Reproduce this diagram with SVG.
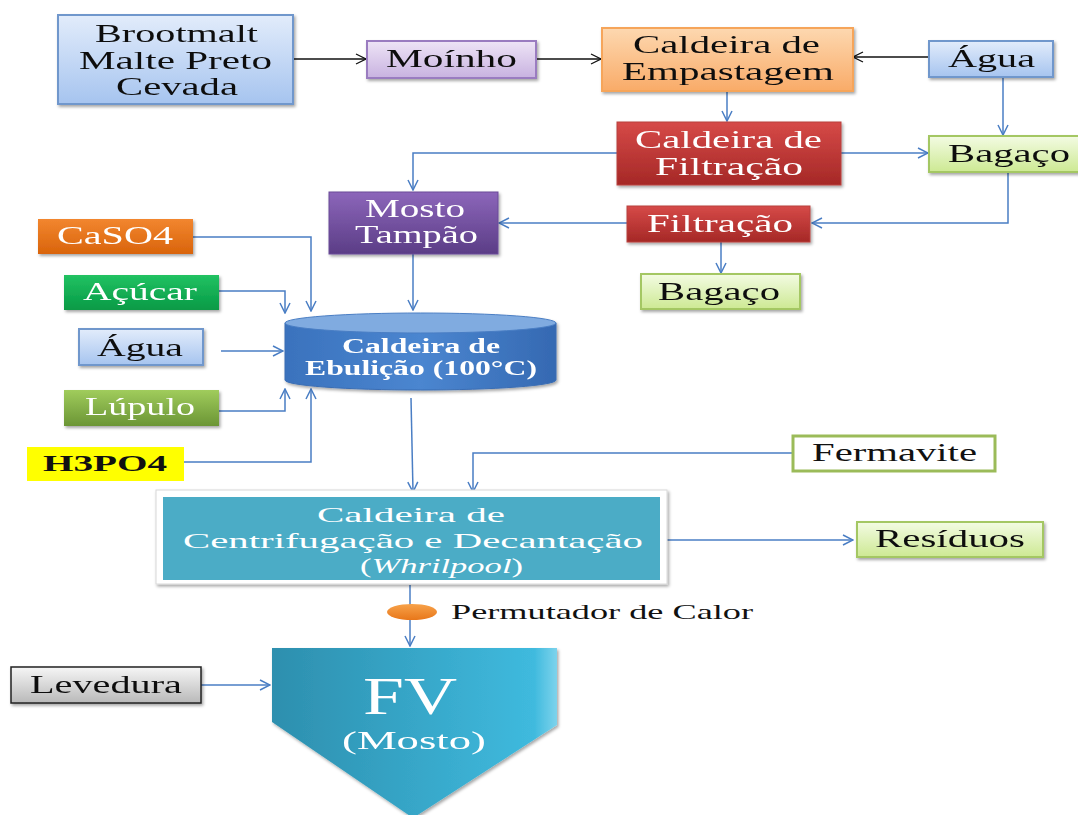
<svg xmlns="http://www.w3.org/2000/svg" width="1078" height="815" viewBox="0 0 1078 815">
<style>
.t{font-family:"Liberation Serif","Times New Roman",serif;font-size:25px;fill:#111}
.w{fill:#fff}
.b{font-weight:bold}
.cb{fill:none;stroke:#4a7ec4;stroke-width:1.5}
.ck{fill:none;stroke:#111;stroke-width:1.3}
</style>
<defs>
<filter id="sh" x="-10%" y="-10%" width="120%" height="130%"><feDropShadow dx="1.5" dy="2" stdDeviation="1.5" flood-color="#000" flood-opacity="0.35"/></filter>
<linearGradient id="gBlue" x1="0" y1="0" x2="0" y2="1"><stop offset="0" stop-color="#e2ecfb"/><stop offset="1" stop-color="#a6c4ef"/></linearGradient>
<linearGradient id="gLav" x1="0" y1="0" x2="0" y2="1"><stop offset="0" stop-color="#eee4f6"/><stop offset="1" stop-color="#c8b2e0"/></linearGradient>
<linearGradient id="gOr" x1="0" y1="0" x2="0" y2="1"><stop offset="0" stop-color="#fdd8b0"/><stop offset="1" stop-color="#f9ab68"/></linearGradient>
<linearGradient id="gRed" x1="0" y1="0" x2="0" y2="1"><stop offset="0" stop-color="#d64a48"/><stop offset="1" stop-color="#a52826"/></linearGradient>
<linearGradient id="gLG" x1="0" y1="0" x2="0" y2="1"><stop offset="0" stop-color="#f3fbe3"/><stop offset="1" stop-color="#cde993"/></linearGradient>
<linearGradient id="gPur" x1="0" y1="0" x2="0" y2="1"><stop offset="0" stop-color="#8c66ba"/><stop offset="1" stop-color="#5b3d86"/></linearGradient>
<linearGradient id="gCa" x1="0" y1="0" x2="0" y2="1"><stop offset="0" stop-color="#f2862f"/><stop offset="1" stop-color="#d9640b"/></linearGradient>
<linearGradient id="gAc" x1="0" y1="0" x2="0" y2="1"><stop offset="0" stop-color="#21c262"/><stop offset="1" stop-color="#079a46"/></linearGradient>
<linearGradient id="gLu" x1="0" y1="0" x2="0" y2="1"><stop offset="0" stop-color="#a0cc5c"/><stop offset="1" stop-color="#6b9535"/></linearGradient>
<linearGradient id="gCyl" x1="0" y1="0" x2="1" y2="0"><stop offset="0" stop-color="#3a72bd"/><stop offset="0.5" stop-color="#4b86d0"/><stop offset="1" stop-color="#3569b2"/></linearGradient>
<linearGradient id="gFV" x1="0" y1="0" x2="1" y2="0"><stop offset="0" stop-color="#2d8fae"/><stop offset="0.92" stop-color="#3fbade"/><stop offset="1" stop-color="#7dd3ec"/></linearGradient>
<linearGradient id="gEl" x1="0" y1="0" x2="0" y2="1"><stop offset="0" stop-color="#f7a24a"/><stop offset="1" stop-color="#e8771a"/></linearGradient>
<linearGradient id="gGr" x1="0" y1="0" x2="0" y2="1"><stop offset="0" stop-color="#f6f6f6"/><stop offset="1" stop-color="#b9b9b9"/></linearGradient>
<marker id="ab" viewBox="0 0 12 12" refX="11" refY="6" markerWidth="12" markerHeight="12" markerUnits="userSpaceOnUse" orient="auto"><path d="M1,1 L11,6 L1,11" fill="none" stroke="#4a7ec4" stroke-width="1.5"/></marker>
<marker id="ak" viewBox="0 0 12 12" refX="11" refY="6" markerWidth="12" markerHeight="12" markerUnits="userSpaceOnUse" orient="auto"><path d="M1,1 L11,6 L1,11" fill="none" stroke="#111" stroke-width="1.3"/></marker>
</defs>
<rect width="1078" height="815" fill="#fff"/>

<g id="connectors">
<path class="ck" d="M293,59 H366" marker-end="url(#ak)"/>
<path class="ck" d="M536,59 H601" marker-end="url(#ak)"/>
<path class="ck" d="M929,57 H853" marker-end="url(#ak)"/>
<path class="cb" d="M727,91 V121" marker-end="url(#ab)"/>
<path class="cb" d="M1003,77 V135" marker-end="url(#ab)"/>
<path class="cb" d="M841,153 H928" marker-end="url(#ab)"/>
<path class="cb" d="M617,153 H413 V190" marker-end="url(#ab)"/>
<path class="cb" d="M1008,172 V223 H812" marker-end="url(#ab)"/>
<path class="cb" d="M627,223 H499" marker-end="url(#ab)"/>
<path class="cb" d="M721,242 V273" marker-end="url(#ab)"/>
<path class="cb" d="M413,254 V310" marker-end="url(#ab)"/>
<path class="cb" d="M193,237 H311 V311" marker-end="url(#ab)"/>
<path class="cb" d="M219,291 H285 V313" marker-end="url(#ab)"/>
<path class="cb" d="M221,351 H283" marker-end="url(#ab)"/>
<path class="cb" d="M219,411 H285 V389" marker-end="url(#ab)"/>
<path class="cb" d="M184,462 H311 V389" marker-end="url(#ab)"/>
<path class="cb" d="M411,398 L413,492" marker-end="url(#ab)"/>
<path class="cb" d="M792,453 H473 V492" marker-end="url(#ab)"/>
<path class="cb" d="M665,540 H853" marker-end="url(#ab)"/>
<path class="cb" d="M410,585 V646" marker-end="url(#ab)"/>
<path class="cb" d="M201,685 H270" marker-end="url(#ab)"/>
</g>

<g id="brootmalt" filter="url(#sh)">
<rect x="58" y="15" width="235" height="89" fill="url(#gBlue)" stroke="#6f97cc" stroke-width="2"/>
<text class="t" x="95" y="42" textLength="163" lengthAdjust="spacingAndGlyphs">Brootmalt</text>
<text class="t" x="79" y="69" textLength="193" lengthAdjust="spacingAndGlyphs">Malte Preto</text>
<text class="t" x="116" y="95" textLength="122" lengthAdjust="spacingAndGlyphs">Cevada</text>
</g>

<g id="moinho" filter="url(#sh)">
<rect x="367" y="41" width="169" height="37" fill="url(#gLav)" stroke="#9a7cc0" stroke-width="2"/>
<text class="t" x="386" y="67" textLength="131" lengthAdjust="spacingAndGlyphs">Moínho</text>
</g>

<g id="empastagem" filter="url(#sh)">
<rect x="602" y="28" width="251" height="63" fill="url(#gOr)" stroke="#f6a55a" stroke-width="2"/>
<text class="t" x="633" y="53" textLength="187" lengthAdjust="spacingAndGlyphs">Caldeira de</text>
<text class="t" x="622" y="80" textLength="212" lengthAdjust="spacingAndGlyphs">Empastagem</text>
</g>

<g id="agua-top" filter="url(#sh)">
<rect x="929" y="41" width="124" height="36" fill="url(#gBlue)" stroke="#6f97cc" stroke-width="2"/>
<text class="t" x="948" y="67" textLength="87" lengthAdjust="spacingAndGlyphs">Água</text>
</g>

<g id="filtracao-caldeira" filter="url(#sh)">
<rect x="617" y="122" width="224" height="63" fill="url(#gRed)" stroke="#b8403e" stroke-width="1"/>
<text class="t w" x="635" y="148" textLength="187" lengthAdjust="spacingAndGlyphs">Caldeira de</text>
<text class="t w" x="655" y="175" textLength="148" lengthAdjust="spacingAndGlyphs">Filtração</text>
</g>

<g id="bagaco1" filter="url(#sh)">
<rect x="929" y="136" width="160" height="36" fill="url(#gLG)" stroke="#a4c764" stroke-width="2"/>
<text class="t" x="948" y="162" textLength="122" lengthAdjust="spacingAndGlyphs">Bagaço</text>
</g>

<g id="mosto-tampao" filter="url(#sh)">
<rect x="329" y="192" width="169" height="62" fill="url(#gPur)" stroke="#6a4a98" stroke-width="1"/>
<text class="t w" x="365" y="217" textLength="100" lengthAdjust="spacingAndGlyphs">Mosto</text>
<text class="t w" x="355" y="243" textLength="123" lengthAdjust="spacingAndGlyphs">Tampão</text>
</g>

<g id="filtracao" filter="url(#sh)">
<rect x="627" y="206" width="183" height="36" fill="url(#gRed)" stroke="#b8403e" stroke-width="1"/>
<text class="t w" x="647" y="232" textLength="146" lengthAdjust="spacingAndGlyphs">Filtração</text>
</g>

<g id="bagaco2" filter="url(#sh)">
<rect x="641" y="274" width="159" height="35" fill="url(#gLG)" stroke="#a4c764" stroke-width="2"/>
<text class="t" x="658" y="300" textLength="122" lengthAdjust="spacingAndGlyphs">Bagaço</text>
</g>

<g id="caso4" filter="url(#sh)">
<rect x="38" y="219" width="155" height="35" fill="url(#gCa)"/>
<text class="t w" x="57" y="244" textLength="116" lengthAdjust="spacingAndGlyphs">CaSO4</text>
</g>

<g id="acucar" filter="url(#sh)">
<rect x="64" y="275" width="155" height="35" fill="url(#gAc)"/>
<text class="t w" x="83" y="300" textLength="114" lengthAdjust="spacingAndGlyphs">Açúcar</text>
</g>

<g id="agua-left" filter="url(#sh)">
<rect x="79" y="329" width="124" height="36" fill="url(#gBlue)" stroke="#6f97cc" stroke-width="2"/>
<text class="t" x="97" y="356" textLength="86" lengthAdjust="spacingAndGlyphs">Água</text>
</g>

<g id="lupulo" filter="url(#sh)">
<rect x="64" y="390" width="155" height="36" fill="url(#gLu)"/>
<text class="t w" x="85" y="415" textLength="110" lengthAdjust="spacingAndGlyphs">Lúpulo</text>
</g>

<g id="h3po4">
<rect x="27" y="447" width="157" height="34" fill="#ffff00"/>
<text class="t b" style="font-size:24px" x="43" y="471" textLength="124" lengthAdjust="spacingAndGlyphs">H3PO4</text>
</g>

<g id="ebulicao" filter="url(#sh)">
<path d="M285,323 V380 A135.5,10 0 0 0 556,380 V323 Z" fill="url(#gCyl)" stroke="#3a6db3" stroke-width="1"/>
<ellipse cx="420.5" cy="323" rx="135.5" ry="10" fill="#80abe0" stroke="#4a7ec4" stroke-width="1"/>
<text class="t w b" style="font-size:20px" x="342" y="353" textLength="158" lengthAdjust="spacingAndGlyphs">Caldeira de</text>
<text class="t w b" style="font-size:20px" x="305" y="375" textLength="232" lengthAdjust="spacingAndGlyphs">Ebulição (100°C)</text>
</g>

<g id="fermavite">
<rect x="793" y="436" width="202" height="35" fill="#fff" stroke="#9bbb59" stroke-width="3"/>
<text class="t" x="812" y="461" textLength="165" lengthAdjust="spacingAndGlyphs">Fermavite</text>
</g>

<g id="whirlpool">
<rect x="156" y="490" width="511" height="94" fill="#fff" stroke="#d8d8d8" stroke-width="1" filter="url(#sh)"/>
<rect x="163" y="497" width="497" height="83" fill="#4bacc6"/>
<text class="t w" style="font-size:22px" x="317" y="522" textLength="188" lengthAdjust="spacingAndGlyphs">Caldeira de</text>
<text class="t w" style="font-size:22px" x="183" y="548" textLength="460" lengthAdjust="spacingAndGlyphs">Centrifugação e Decantação</text>
<text class="t w" style="font-size:22px" x="360" y="573" textLength="163" lengthAdjust="spacingAndGlyphs">(<tspan font-style="italic">Whrilpool</tspan>)</text>
</g>

<g id="residuos" filter="url(#sh)">
<rect x="857" y="522" width="186" height="35" fill="url(#gLG)" stroke="#a4c764" stroke-width="2"/>
<text class="t" x="875" y="547" textLength="150" lengthAdjust="spacingAndGlyphs">Resíduos</text>
</g>

<g id="permutador">
<ellipse cx="412" cy="612" rx="25" ry="8" fill="url(#gEl)"/>
<text class="t" style="font-size:21px" x="451" y="619" textLength="302" lengthAdjust="spacingAndGlyphs">Permutador de Calor</text>
</g>

<g id="levedura" filter="url(#sh)">
<rect x="11" y="667" width="190" height="36" fill="url(#gGr)" stroke="#222" stroke-width="1.5"/>
<text class="t" x="30" y="693" textLength="152" lengthAdjust="spacingAndGlyphs">Levedura</text>
</g>

<g id="fv" filter="url(#sh)">
<path d="M272,648 H557 V725 L413,818 L272,722 Z" fill="url(#gFV)"/>
<text class="t w" style="font-size:52px" x="363" y="714" textLength="94" lengthAdjust="spacingAndGlyphs">FV</text>
<text class="t w" style="font-size:26px" x="342" y="749" textLength="144" lengthAdjust="spacingAndGlyphs">(Mosto)</text>
</g>
</svg>
